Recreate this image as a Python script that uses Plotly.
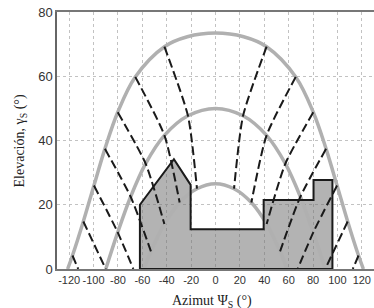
import plotly.graph_objects as go

# Sun path curves (azimuth, elevation)
summer_az = [-121.3, -117.3, -108.4, -99.7, -90.7, -80.2, -65.8, -41.9, -23.1, 0,
             23.1, 41.9, 65.8, 80.2, 90.7, 99.7, 108.4, 117.3, 121.3]
summer_el = [0, 4.2, 14.8, 26.0, 37.4, 48.8, 59.8, 69.2, 72.3, 73.45,
             72.3, 69.2, 59.8, 48.8, 37.4, 26.0, 14.8, 4.2, 0]

equinox_az = [-90, -80.2, -69.6, -57.3, -41.9, -22.6, 0, 22.6, 41.9, 57.3, 69.6, 80.2, 90]
equinox_el = [0, 11.4, 22.5, 32.8, 41.6, 47.7, 50, 47.7, 41.6, 32.8, 22.5, 11.4, 0]

winter_az = [-58.7, -52.95, -41.95, -29.4, -15.2, 0, 15.2, 29.4, 41.95, 52.95, 58.7]
winter_el = [0, 5.5, 14.0, 20.7, 25.0, 26.55, 25.0, 20.7, 14.0, 5.5, 0]

# Hour lines (one list per hour), azimuth / elevation
hour_az = [
    [41.9, 22.6, 15.2], [65.8, 41.9, 29.4], [80.2, 57.3, 41.95],
    [90.7, 69.6, 52.95], [99.7, 80.2, 67.4], [108.4, 90.0], [117.3, 112.6],
]
hour_el = [
    [69.2, 47.7, 25.0], [59.8, 41.6, 20.7], [48.8, 32.8, 14.0],
    [37.4, 22.5, 5.5], [26.0, 11.4, 0.0], [14.8, 0.0], [4.2, 0.0],
]

# Obstacle (horizon) profile
obs_az = [-62, -62, -34.1, -20.4, -20.4, 39.5, 39.5, 80.4, 80.4, 95.9, 95.9, -62]
obs_el = [0, 20, 34.2, 26.2, 12.4, 12.4, 21.5, 21.5, 27.7, 27.7, 0, 0]

x_ticks = list(range(-120, 121, 20))
y_ticks = [0, 20, 40, 60, 80]

fig = go.Figure()

# obstacle fill
fig.add_trace(go.Scatter(x=obs_az, y=obs_el, mode="lines", fill="toself",
                         fillcolor="rgba(110,110,110,0.52)", line=dict(width=0),
                         hoverinfo="skip"))

# sun paths
for xs, ys in [(summer_az, summer_el), (equinox_az, equinox_el), (winter_az, winter_el)]:
    fig.add_trace(go.Scatter(x=xs, y=ys, mode="lines",
                             line=dict(color="#b0b0b0", width=3.5, shape="spline", smoothing=1.0)))

# hour lines (both sides)
for xs, ys in zip(hour_az, hour_el):
    for sgn in (1, -1):
        fig.add_trace(go.Scatter(x=[sgn * v for v in xs], y=ys, mode="lines",
                                 line=dict(color="#1a1a1a", width=2, dash="9px,4px",
                                           shape="spline", smoothing=0.6)))

# obstacle outline
fig.add_trace(go.Scatter(x=obs_az, y=obs_el, mode="lines",
                         line=dict(color="#1a1a1a", width=2)))

sans = "Liberation Sans, Arial, sans-serif"
title_font = dict(family="Liberation Serif, Times New Roman, serif", size=14, color="#222")

fig.update_layout(
    width=374, height=308,
    margin=dict(l=57, r=0, t=12, b=39),
    plot_bgcolor="white", paper_bgcolor="white",
    showlegend=False,
    xaxis=dict(range=[-130, 130], tickvals=x_ticks, ticktext=[str(v) for v in x_ticks],
               showgrid=True, gridcolor="#c2c2c2", griddash="dot", gridwidth=1,
               zeroline=False, showline=True, linecolor="#777", linewidth=1.5, mirror=True,
               ticks="", automargin=False,
               tickfont=dict(family=sans, size=11, color="#333")),
    yaxis=dict(range=[0, 80], tickvals=y_ticks,
               showgrid=True, gridcolor="#c2c2c2", griddash="dot", gridwidth=1,
               zeroline=False, showline=True, linecolor="#666", linewidth=1.5,
               ticks="", automargin=False,
               tickfont=dict(family=sans, size=13, color="#333")),
    annotations=[
        dict(text="Azimut Ψ<sub>S</sub> (°)", xref="paper", yref="paper",
             x=0.489, y=-0.125, xanchor="center", yanchor="middle",
             showarrow=False, font=title_font),
        dict(text="Elevación, γ<sub>S</sub> (°)", xref="paper", yref="paper",
             x=-0.1136, y=0.5, xanchor="center", yanchor="middle", textangle=-90,
             showarrow=False, font=title_font),
    ],
)

fig.write_html("out.html", config={"displayModeBar": False},
               post_script="document.body.style.margin='0';")
